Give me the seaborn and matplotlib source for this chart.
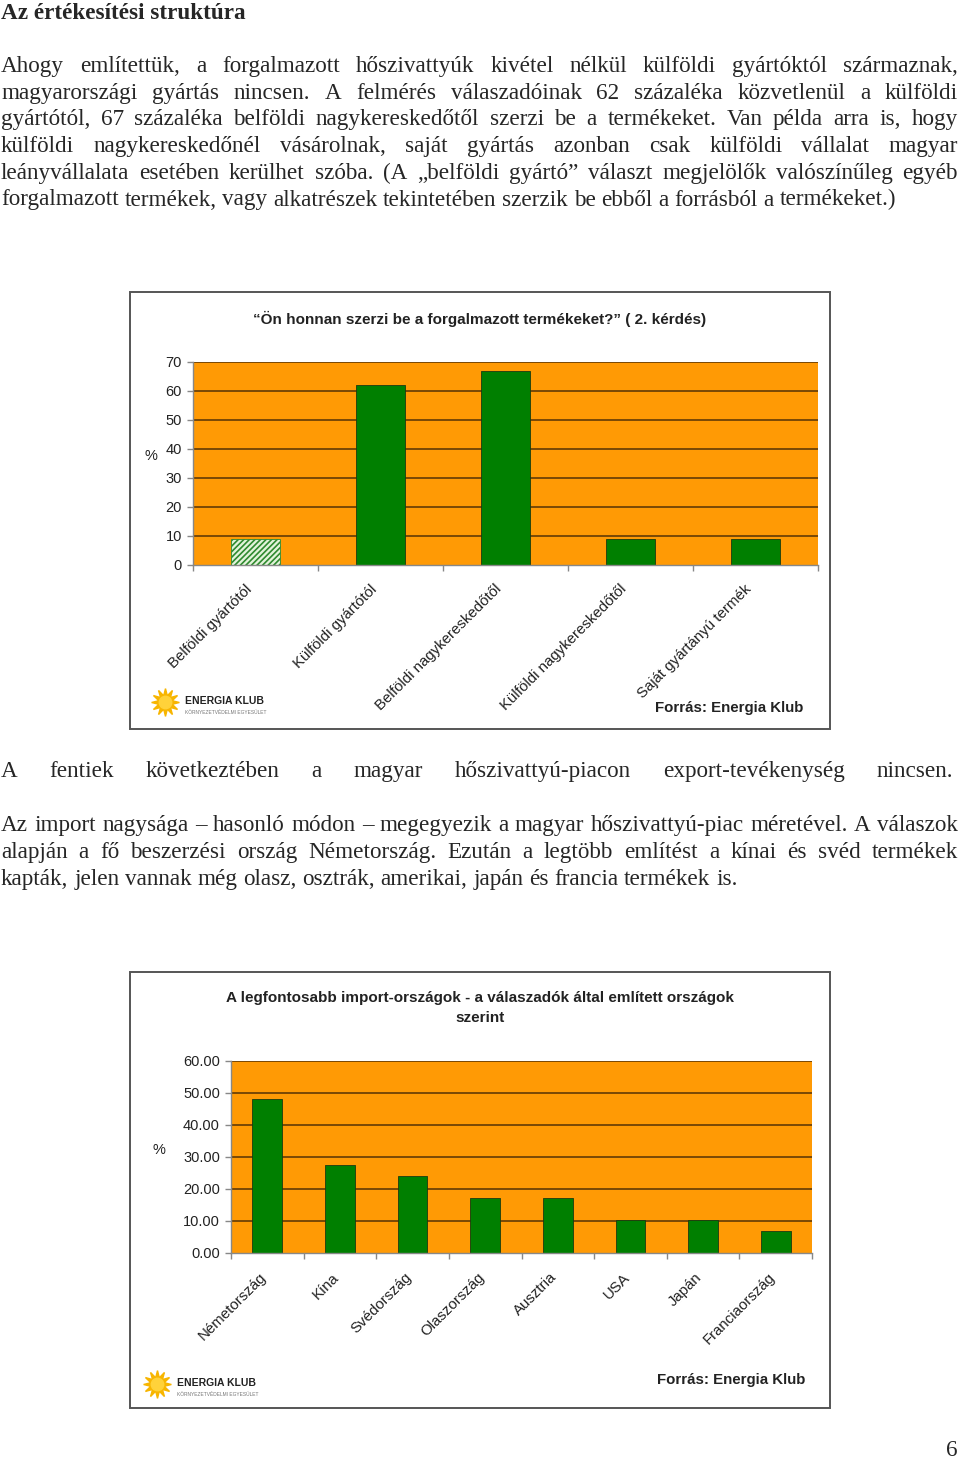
import matplotlib
matplotlib.use('Agg')
import matplotlib.pyplot as plt
import seaborn as sns
from matplotlib.patches import Rectangle
from matplotlib.lines import Line2D
from matplotlib.ticker import FormatStrFormatter
from matplotlib.transforms import ScaledTranslation

sns.set_style('white')
plt.rcParams['font.family'] = ['Liberation Sans', 'DejaVu Sans']
plt.rcParams['hatch.linewidth'] = 1.2

# Chart 1 data
sources = ['Belföldi gyártótól', 'Külföldi gyártótól', 'Belföldi nagykereskedőtől',
           'Külföldi nagykereskedőtől', 'Saját gyártányú termék']
source_pct = [9, 62, 67, 9, 9]

# Chart 2 data
countries = ['Németország', 'Kína', 'Svédország', 'Olaszország', 'Ausztria',
             'USA', 'Japán', 'Franciaország']
country_pct = [48.28, 27.59, 24.14, 17.24, 17.24, 10.34, 10.34, 6.90]

# Page text
heading = 'Az értékesítési struktúra'
para1 = [
    'Ahogy említettük, a forgalmazott hőszivattyúk kivétel nélkül külföldi gyártóktól származnak,',
    'magyarországi gyártás nincsen. A felmérés válaszadóinak 62 százaléka közvetlenül a külföldi',
    'gyártótól, 67 százaléka belföldi nagykereskedőtől szerzi be a termékeket. Van példa arra is, hogy',
    'külföldi nagykereskedőnél vásárolnak, saját gyártás azonban csak külföldi vállalat magyar',
    'leányvállalata esetében kerülhet szóba. (A „belföldi gyártó” választ megjelölők valószínűleg egyéb',
    'forgalmazott termékek, vagy alkatrészek tekintetében szerzik be ebből a forrásból a termékeket.)',
]
para2 = ['A fentiek következtében a magyar hőszivattyú-piacon export-tevékenység nincsen.']
para3 = [
    'Az import nagysága – hasonló módon – megegyezik a magyar hőszivattyú-piac méretével. A válaszok',
    'alapján a fő beszerzési ország Németország. Ezután a legtöbb említést a kínai és svéd termékek',
    'kapták, jelen vannak még olasz, osztrák, amerikai, japán és francia termékek is.',
]

W, H = 960, 1459
fig = plt.figure(figsize=(W / 100, H / 100), dpi=100)
fig.patch.set_facecolor('white')
renderer = fig.canvas.get_renderer()

SERIF = ['Liberation Serif', 'DejaVu Serif']
BODY = 16.7


def fx(px):
    return px / W


def fy(py):
    return 1 - py / H


def text_line(line, base_y, justify=True, size=BODY, right=958):
    words = line.split(' ')
    objs = [fig.text(0, fy(base_y), w, family=SERIF, fontsize=size, va='baseline', ha='left')
            for w in words]
    widths = [o.get_window_extent(renderer).width for o in objs]
    sp = fig.text(0, 0, 'a a', family=SERIF, fontsize=size)
    sp2 = fig.text(0, 0, 'aa', family=SERIF, fontsize=size)
    space = sp.get_window_extent(renderer).width - sp2.get_window_extent(renderer).width
    sp.remove()
    sp2.remove()
    gap = space
    if justify and len(words) > 1:
        gap = max((right - 1 - sum(widths)) / (len(words) - 1), space * 0.5)
    x = 1
    for o, w in zip(objs, widths):
        o.set_x(fx(x))
        x += w + gap


fig.text(fx(1), fy(19), heading, family=SERIF, fontsize=BODY, fontweight='bold', va='baseline')
for i, line in enumerate(para1):
    text_line(line, 72 + i * 26.7, justify=(i < len(para1) - 1))
text_line(para2[0], 777, justify=True, right=953)
for i, line in enumerate(para3):
    text_line(line, 831 + i * 27, justify=(i < len(para3) - 1))
fig.text(fx(958), fy(1456), '6', family=SERIF, fontsize=BODY, ha='right', va='baseline')

ORANGE = '#FF9A05'
GREEN = '#007F00'
GRID = '#6e4206'


def chart_frame(top, bottom):
    fig.add_artist(Rectangle((fx(130), fy(bottom)), fx(700), (bottom - top) / H,
                             transform=fig.transFigure, fill=False,
                             edgecolor='#555555', lw=1.4))


def logo(cx, cy):
    fig.add_artist(Line2D([fx(cx)], [fy(cy)], marker=(12, 1, 0), markersize=20,
                          color='#F7B500', transform=fig.transFigure))
    fig.add_artist(Line2D([fx(cx)], [fy(cy)], marker='o', markersize=9,
                          color='#FFD23A', transform=fig.transFigure))
    fig.text(fx(cx + 20), fy(cy - 1), 'ENERGIA KLUB', fontsize=7.5, fontweight='bold',
             va='center', ha='left', color='#222222')
    fig.text(fx(cx + 20), fy(cy + 10), 'KÖRNYEZETVÉDELMI EGYESÜLET', fontsize=3.5,
             va='center', ha='left', color='#777777')


def style_axis(ax, n, ymax, step, shift_px):
    ax.set_facecolor(ORANGE)
    ax.set_xlim(-0.5, n - 0.5)
    ax.set_ylim(0, ymax)
    ax.set_yticks(range(0, ymax + 1, step))
    ax.grid(False)
    for v in range(step, ymax + 1, step):
        ax.axhline(v, color=GRID, lw=1.3, zorder=0.5)
    for s in ['top', 'right']:
        ax.spines[s].set_visible(False)
    for s in ['left', 'bottom']:
        ax.spines[s].set_color('#888888')
        ax.spines[s].set_linewidth(1)
    ax.tick_params(axis='y', left=True, length=4, width=1, color='#888888',
                   labelsize=10.5, pad=4, labelcolor='#222222')
    ax.set_xticks(range(n))
    ax.set_xticks([i - 0.5 for i in range(n + 1)], minor=True)
    ax.tick_params(axis='x', which='major', length=0, pad=16)
    ax.tick_params(axis='x', which='minor', bottom=True, length=4, width=1, color='#888888')
    offset = ScaledTranslation(-shift_px / 100, 0, fig.dpi_scale_trans)
    for lab in ax.get_xticklabels():
        lab.set_rotation(45)
        lab.set_ha('right')
        lab.set_va('center')
        lab.set_rotation_mode('anchor')
        lab.set_fontsize(10.8)
        lab.set_color('#222222')
        lab.set_transform(lab.get_transform() + offset)
    ax.set_xlabel('')


# ---- Chart 1
chart_frame(292, 729)
ax1 = fig.add_axes([fx(193), fy(565), fx(625), 203 / H])
sns.barplot(x=sources, y=source_pct, ax=ax1, color=GREEN, width=0.39,
            edgecolor='#1c3a10', linewidth=0.6, saturation=1, zorder=2)
style_axis(ax1, len(sources), 70, 10, shift_px=6)
first = ax1.patches[0]
first.set_facecolor('#e3f3da')
first.set_edgecolor('#2f8a2f')
first.set_hatch('//////')
ax1.set_ylabel('%', rotation=0, fontsize=10.5, color='#222222')
ax1.yaxis.set_label_coords(-0.067, 0.5)
fig.text(fx(480), fy(319), '“Ön honnan szerzi be a forgalmazott termékeket?” ( 2. kérdés)',
         fontsize=11, fontweight='bold', ha='center', va='center', color='#222222')
fig.text(fx(803), fy(708), 'Forrás: Energia Klub', fontsize=10.8, fontweight='bold',
         ha='right', va='center', color='#222222')
logo(165, 702)

# ---- Chart 2
chart_frame(972, 1408)
ax2 = fig.add_axes([fx(231), fy(1253), fx(581), 192 / H])
sns.barplot(x=countries, y=country_pct, ax=ax2, color=GREEN, width=0.41,
            edgecolor='#1c3a10', linewidth=0.6, saturation=1, zorder=2)
style_axis(ax2, len(countries), 60, 10, shift_px=3)
ax2.yaxis.set_major_formatter(FormatStrFormatter('%.2f'))
ax2.set_ylabel('%', rotation=0, fontsize=10.5, color='#222222')
ax2.yaxis.set_label_coords(-0.124, 0.5)
fig.text(fx(480), fy(998), 'A legfontosabb import-országok - a válaszadók által említett országok',
         fontsize=11, fontweight='bold', ha='center', va='center', color='#222222')
fig.text(fx(480), fy(1018), 'szerint', fontsize=11, fontweight='bold',
         ha='center', va='center', color='#222222')
fig.text(fx(805), fy(1380), 'Forrás: Energia Klub', fontsize=10.8, fontweight='bold',
         ha='right', va='center', color='#222222')
logo(157, 1384)

fig.savefig('out.png', dpi=100)
